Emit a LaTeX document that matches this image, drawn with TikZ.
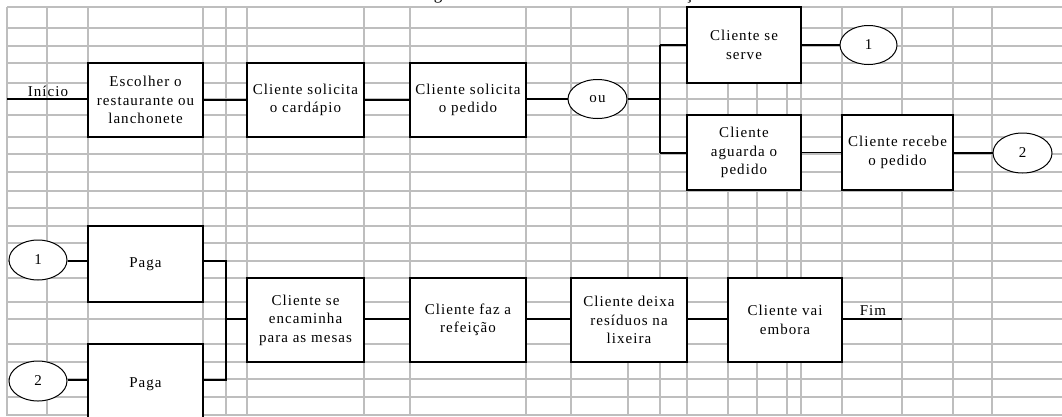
\documentclass[tikz,border=0pt]{standalone}
\usepackage{fontspec}
\setmainfont{Liberation Serif}[LetterSpace=7]
\usetikzlibrary{shapes.geometric}
\definecolor{gridgray}{RGB}{190,190,190}
\tikzset{
  gridln/.style={draw=gridgray, line width=1.4pt},
  bx/.style={draw, line width=1.8pt, fill=white, align=center, inner sep=0pt,
    font=\fontsize{15}{18.5}\selectfont},
  circ/.style={draw, ellipse, line width=1pt, fill=white, inner sep=0pt,
    minimum width=58pt, minimum height=40pt, font=\fontsize{15}{18.5}\selectfont},
  conn/.style={line width=1.3pt},
  branch/.style={line width=2pt},
  lbl/.style={inner sep=0pt, font=\fontsize{15}{18.5}\selectfont}
}
\begin{document}
\begin{tikzpicture}[x=1pt,y=-1pt]
\clip (0,0) rectangle (1062,416);
\fill[white] (0,0) rectangle (1062,416);
% title fragments (cut off at top)
\node[lbl, anchor=base, font=\fontsize{17}{20}\selectfont] (tg) at (438,-1) {g};
\node[lbl, anchor=base, font=\fontsize{17}{20}\selectfont] (tc) at (689,-1) {ç};
% spreadsheet grid
\foreach \gx in {7,47,88,203,226,247,364,410,526,571,628,660,687,728,757,787,801,842,902,953,992}
  \draw[gridln] (\gx,7) -- (\gx,416);
\foreach \gy in {7,28,46,63,83,99,115,137,154,172,191,208,226,243,261,278,302,319,344,362,379,397,415}
  \draw[gridln] (7,\gy) -- (1062,\gy);
% top flow
\coordinate (ini) at (7,99);
\node[bx, minimum width=115pt, minimum height=74pt] (b1) at (145.5,100) {Escolher o\\restaurante ou\\lanchonete};
\node[bx, minimum width=117pt, minimum height=74pt] (b2) at (305.5,100) {Cliente solicita\\o cardápio};
\node[bx, minimum width=116pt, minimum height=74pt] (b3) at (468,100) {Cliente solicita\\o pedido};
\node[circ, minimum width=59pt, minimum height=39pt] (ou) at (597.5,99) {ou};
\node[bx, minimum width=114pt, minimum height=76pt] (serve) at (744,45) {Cliente se\\serve};
\node[circ, minimum width=57pt, minimum height=39pt] (c1t) at (868.5,45) {1};
\node[bx, minimum width=114pt, minimum height=75pt] (aguarda) at (744,152.5) {Cliente\\aguarda o\\pedido};
\node[bx, minimum width=111pt, minimum height=75pt] (recebe) at (897.5,152.5) {Cliente recebe\\o pedido};
\node[circ, minimum width=59pt, minimum height=40pt] (c2t) at (1022.5,153) {2};
\node[lbl] (tini) at (48,91) {Início};
\draw[conn] (ini) -- (ini -| b1.west);
\draw[conn] (b1.east) -- (b2.west);
\draw[conn] (b2.east) -- (b3.west);
\draw[conn] (b3.east |- ou.west) -- (ou.west);
\coordinate (j0) at (660,99);
\coordinate (j1) at (660,45);
\coordinate (j2) at (660,153);
\draw[conn] (ou.east) -- (j0);
\draw[branch] (j1) -- (j2);
\draw[conn] (j1) -- (serve.west);
\draw[conn] (j2) -- (j2 -| aguarda.west);
\draw[conn] (serve.east) -- (c1t.west);
\draw[conn] (aguarda.east |- recebe.west) -- (recebe.west);
\draw[conn] (recebe.east |- c2t.west) -- (c2t.west);
% bottom flow
\node[circ] (c1b) at (38,260) {1};
\node[circ] (c2b) at (38,381) {2};
\node[bx, minimum width=115pt, minimum height=76pt] (paga1) at (145.5,264) {Paga};
\node[bx, minimum width=115pt, minimum height=80pt] (paga2) at (145.5,384) {\raisebox{3pt}{Paga}};
\node[bx, minimum width=117pt, minimum height=84pt] (enc) at (305.5,320) {Cliente se\\encaminha\\para as mesas};
\node[bx, minimum width=116pt, minimum height=84pt] (ref) at (468,320) {Cliente faz a\\refeição};
\node[bx, minimum width=116pt, minimum height=84pt] (dei) at (629,320) {Cliente deixa\\resíduos na\\lixeira};
\node[bx, minimum width=114pt, minimum height=84pt] (emb) at (785,320) {Cliente vai\\embora};
\coordinate (fim) at (902,319);
\node[lbl] (tfim) at (873,311) {Fim};
\coordinate (ka) at (226,261);
\coordinate (kb) at (226,380);
\coordinate (km) at (226,319);
\draw[conn] (c1b.east |- ka) -- (ka -| paga1.west);
\draw[conn] (c2b.east |- kb) -- (kb -| paga2.west);
\draw[conn] (ka -| paga1.east) -- (ka) -- (kb) -- (kb -| paga2.east);
\draw[conn] (km) -- (km -| enc.west);
\draw[conn] (enc.east |- km) -- (km -| ref.west);
\draw[conn] (ref.east |- km) -- (km -| dei.west);
\draw[conn] (dei.east |- km) -- (km -| emb.west);
\draw[conn] (emb.east |- fim) -- (fim);
\end{tikzpicture}
\end{document}
